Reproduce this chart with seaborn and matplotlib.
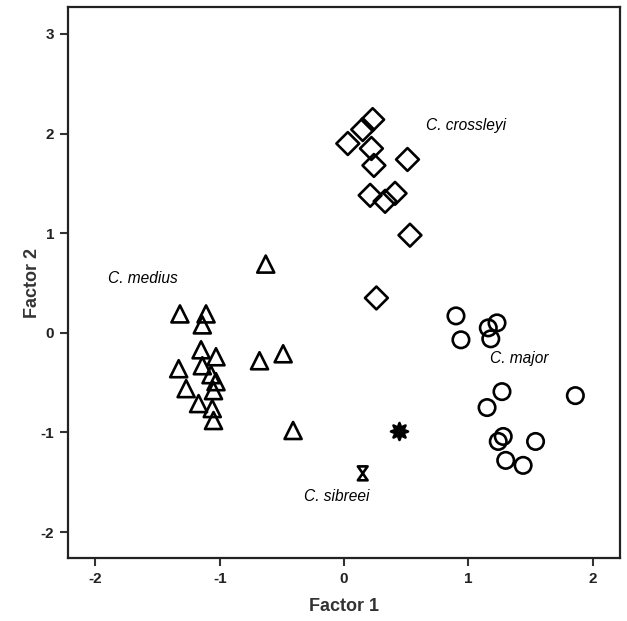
"""
Factor scores scatter for Cheirogaleus species.
"""

import numpy as np
import pandas as pd
import matplotlib
matplotlib.use('Agg')
import matplotlib.pyplot as plt
from matplotlib.path import Path
import seaborn as sns


# Factor scores
medius_f1 = [-0.63, -1.32, -1.11, -1.14, -1.15, -1.03, -1.33, -1.14, -1.07,
             -1.03, -1.05, -1.27, -1.17, -1.06, -1.05, -0.68, -0.49, -0.41]
medius_f2 = [0.69, 0.19, 0.19, 0.08, -0.17, -0.24, -0.36, -0.33, -0.42,
             -0.49, -0.58, -0.56, -0.71, -0.76, -0.88, -0.28, -0.21, -0.98]

crossleyi_f1 = [0.23, 0.15, 0.03, 0.22, 0.24, 0.51, 0.21, 0.41, 0.33, 0.53, 0.26]
crossleyi_f2 = [2.14, 2.04, 1.90, 1.85, 1.68, 1.74, 1.38, 1.40, 1.32, 0.98, 0.35]

major_f1 = [0.90, 1.23, 1.16, 0.94, 1.18, 1.27, 1.15, 1.86, 1.28, 1.24, 1.54, 1.30, 1.44]
major_f2 = [0.17, 0.10, 0.05, -0.07, -0.06, -0.59, -0.75, -0.63, -1.04, -1.09, -1.09, -1.28, -1.33]

sibreei_f1 = [0.15]
sibreei_f2 = [-1.41]

unknown_f1 = [0.44]
unknown_f2 = [-0.99]

x_ticks = [-2, -1, 0, 1, 2]
y_ticks = [-2, -1, 0, 1, 2, 3]

sns.set_style('white')
plt.rcParams['font.family'] = ['Liberation Sans', 'DejaVu Sans']

hourglass = Path([(-0.7, 1), (0.7, 1), (-0.7, -1), (0.7, -1), (-0.7, 1)],
                 [Path.MOVETO, Path.LINETO, Path.LINETO, Path.LINETO, Path.CLOSEPOLY])

groups = [
    (medius_f1, medius_f2, '^', 150, 'none'),
    (crossleyi_f1, crossleyi_f2, 'D', 135, 'none'),
    (major_f1, major_f2, 'o', 140, 'none'),
    (sibreei_f1, sibreei_f2, hourglass, 100, 'none'),
    (unknown_f1, unknown_f2, (8, 1, 0), 150, 'black'),
]

fig = plt.figure(figsize=(6.27, 6.21), dpi=100)
ax = fig.add_axes([0.1085, 0.1014, 0.8805, 0.8873])

for fx, fy, marker, size, face in groups:
    df = pd.DataFrame({'f1': fx, 'f2': fy})
    sns.scatterplot(data=df, x='f1', y='f2', marker=marker, s=size,
                    facecolors=face, edgecolor='black', linewidth=1.9, ax=ax, zorder=3)

# species labels
label_style = dict(fontsize=11.2, fontstyle='italic', color='black')
ax.text(0.66, 2.08, 'C. crossleyi', va='center', ha='left', **label_style)
ax.text(-1.90, 0.55, 'C. medius', va='center', ha='left', **label_style)
ax.text(1.17, -0.26, 'C. major', va='center', ha='left', **label_style)
ax.text(-0.32, -1.64, 'C. sibreei', va='center', ha='left', **label_style)

ax.set_xlim(-2.22, 2.22)
ax.set_ylim(-2.26, 3.27)
ax.set_xticks(x_ticks)
ax.set_yticks(y_ticks)
ax.set_xticklabels([str(t) for t in x_ticks], fontsize=11, fontweight='bold')
ax.set_yticklabels([str(t) for t in y_ticks], fontsize=11, fontweight='bold')
ax.tick_params(axis='both', direction='out', length=6, width=1.5, color='#333333',
               labelcolor='#222222', bottom=True, left=True, pad=4)

for spine in ax.spines.values():
    spine.set_visible(True)
    spine.set_color('#222222')
    spine.set_linewidth(1.6)

ax.set_xlabel('Factor 1', fontsize=13, fontweight='bold', color='#333333', labelpad=9)
ax.set_ylabel('Factor 2', fontsize=13, fontweight='bold', color='#333333', labelpad=0)

plt.savefig('out.png', dpi=100)
plt.close()
